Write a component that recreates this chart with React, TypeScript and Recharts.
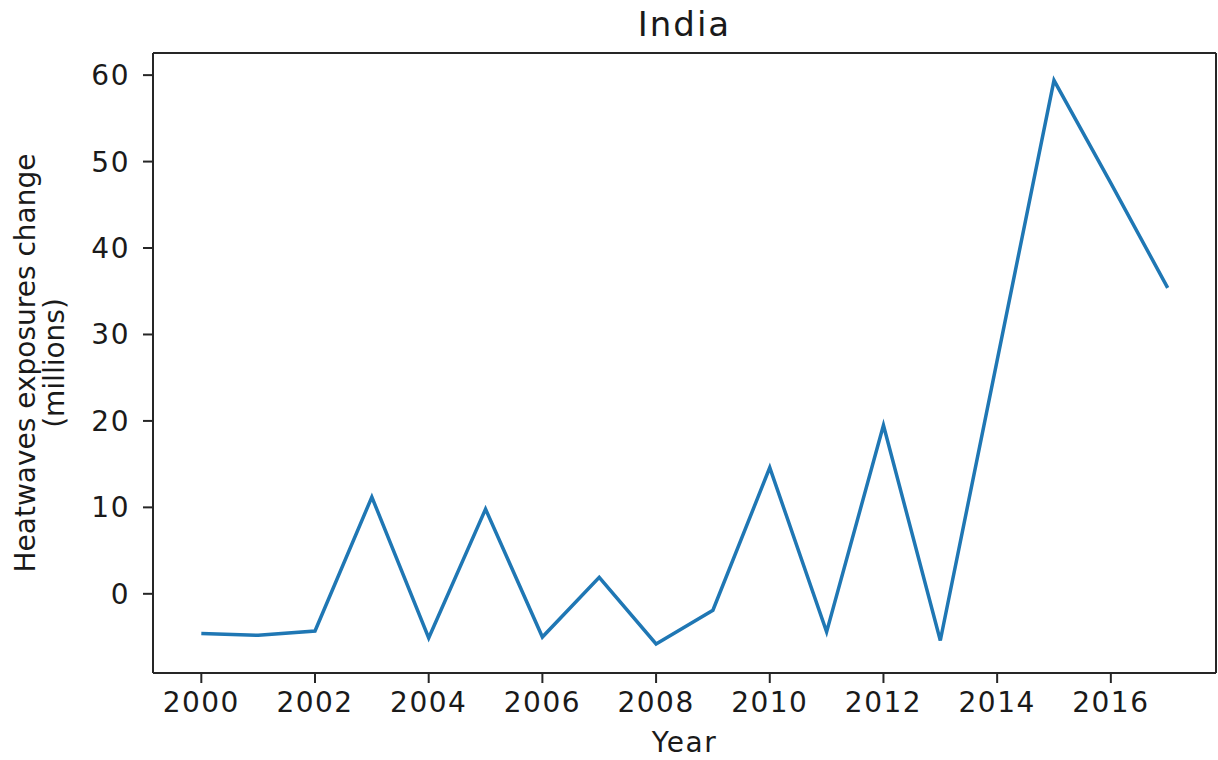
import { Line, LineChart, ReferenceLine, XAxis, YAxis } from "recharts";

const YEARS = [
  2000, 2001, 2002, 2003, 2004, 2005, 2006, 2007, 2008, 2009, 2010, 2011, 2012, 2013, 2014, 2015,
  2016, 2017,
];
const EXPOSURE_CHANGE = [
  -4.6, -4.8, -4.3, 11.2, -5.1, 9.8, -5.0, 1.9, -5.8, -1.9, 14.6, -4.4, 19.5, -5.4, 27.0, 59.4,
  47.5, 35.4,
];
const X_TICKS = [2000, 2002, 2004, 2006, 2008, 2010, 2012, 2014, 2016];
const Y_TICKS = [0, 10, 20, 30, 40, 50, 60];

const X_DOMAIN: [number, number] = [1999.15, 2017.85];
const Y_DOMAIN: [number, number] = [-9.16, 62.56];

const data = YEARS.map((year, i) => ({ year, value: EXPOSURE_CHANGE[i] }));

const FONT = "'DejaVu Sans', sans-serif";
const INK = "#1a1a1a";
const SPINE = "#262626";

const tickStyle = { fontSize: 28, fill: INK, fontFamily: FONT, letterSpacing: 1.5 };

function YLabel({ viewBox }: any) {
  const cy = viewBox.y + viewBox.height / 2;
  return (
    <text
      transform={`translate(0, ${cy}) rotate(-90)`}
      textAnchor="middle"
      fontFamily={FONT}
      fontSize={28}
      fill={INK}
    >
      <tspan x={0} y={35}>Heatwaves exposures change</tspan>
      <tspan x={0} y={64}>(millions)</tspan>
    </text>
  );
}

export default function App() {
  return (
    <div style={{ position: "absolute", left: 0, top: 0, width: 1218, height: 760, background: "#fff" }}>
      <div
        style={{
          position: "absolute",
          left: 153,
          width: 1063,
          top: 4,
          textAlign: "center",
          fontFamily: FONT,
          fontSize: 34,
          letterSpacing: 2,
          color: INK,
          lineHeight: "40px",
        }}
      >
        India
      </div>
      <LineChart width={1218} height={760} data={data} margin={{ top: 53, right: 2, bottom: 0, left: 0 }}>
        <XAxis
          dataKey="year"
          type="number"
          domain={X_DOMAIN}
          ticks={X_TICKS}
          allowDataOverflow
          tick={tickStyle}
          tickSize={10}
          tickMargin={9}
          height={87}
          stroke={SPINE}
          strokeWidth={2}
          tickLine={{ stroke: SPINE, strokeWidth: 2 }}
          label={{
            value: "Year",
            position: "insideBottom",
            offset: 8,
            fontSize: 28,
            fill: INK,
            fontFamily: FONT,
            letterSpacing: 1.5,
          }}
        />
        <YAxis
          type="number"
          domain={Y_DOMAIN}
          ticks={Y_TICKS}
          allowDataOverflow
          tick={tickStyle}
          tickSize={10}
          tickMargin={13}
          width={153}
          stroke={SPINE}
          strokeWidth={2}
          tickLine={{ stroke: SPINE, strokeWidth: 2 }}
          label={<YLabel />}
        />
        <ReferenceLine y={Y_DOMAIN[1]} stroke={SPINE} strokeWidth={2} />
        <ReferenceLine x={X_DOMAIN[1]} stroke={SPINE} strokeWidth={2} />
        <Line
          type="linear"
          dataKey="value"
          stroke="#1f77b4"
          strokeWidth={3.5}
          dot={false}
          isAnimationActive={false}
        />
      </LineChart>
    </div>
  );
}
